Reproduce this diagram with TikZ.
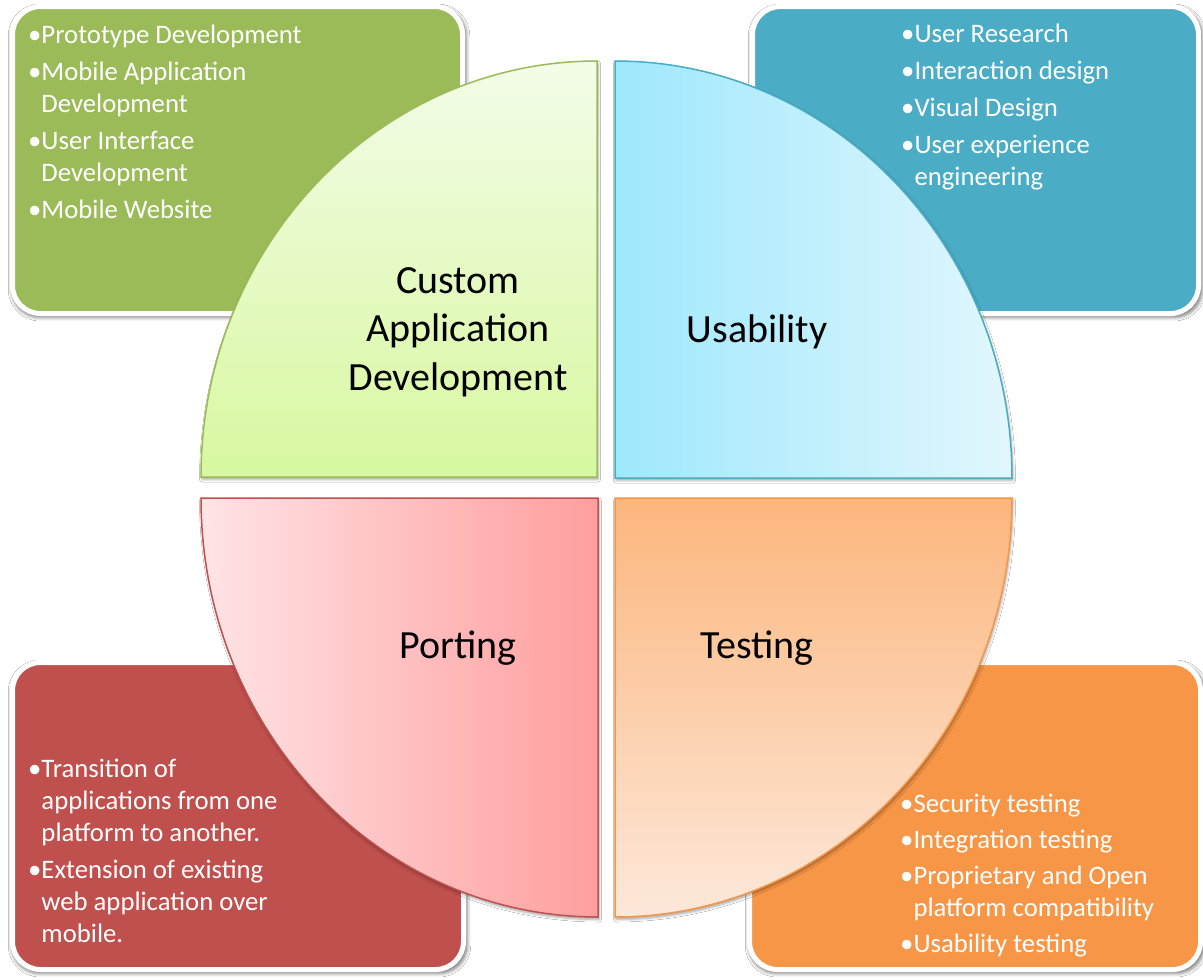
\documentclass[tikz,border=0pt]{standalone}
\usepackage{fontspec}
\setmainfont{Carlito}
\usetikzlibrary{shadows,shadows.blur}
\definecolor{gbox}{HTML}{9BBB59}
\definecolor{bbox}{HTML}{4BACC6}
\definecolor{rbox}{HTML}{C0504D}
\definecolor{obox}{HTML}{F79646}
\definecolor{gtop}{HTML}{F3FCE8}
\definecolor{gbot}{HTML}{D8F8A0}
\definecolor{bleft}{HTML}{9FE8FD}
\definecolor{bright}{HTML}{E2F7FD}
\definecolor{pleft}{HTML}{FFE4E6}
\definecolor{pright}{HTML}{FF9E9E}
\definecolor{otop}{HTML}{FCB67D}
\definecolor{obot}{HTML}{FDE8DA}
\tikzset{
  infobox/.style={rectangle, rounded corners=28pt, draw=white, line width=5pt,
    minimum height=307pt, inner sep=0pt,
    blur shadow={shadow xshift=1.5pt, shadow yshift=-2.5pt, shadow scale=1.012,
      shadow blur radius=3pt, shadow opacity=45}},
  listtext/.style={anchor=north west, align=left, inner sep=0pt, text=white,
    font=\fontsize{26.7}{32}\selectfont},
  quarter/.style={line width=1.5pt,
    blur shadow={shadow xshift=1pt, shadow yshift=-2.5pt,
      shadow blur radius=2.5pt, shadow opacity=35}},
  biglabel/.style={inner sep=0pt, text=black, align=center,
    font=\fontsize{40}{48.5}\selectfont}
}
\begin{document}
\begin{tikzpicture}[x=1pt,y=-1pt]
\useasboundingbox[fill=white] (0,0) rectangle (1203,980);

% outer boxes
\node[infobox, fill=gbox, minimum width=450pt] (gb) at (237.5,160) {};
\node[infobox, fill=bbox, minimum width=446pt] (bb) at (975.5,160) {};
\node[infobox, fill=rbox, minimum width=451pt] (rb) at (238,816) {};
\node[infobox, fill=obox, minimum width=451pt] (ob) at (975,816) {};

% box texts
\node[listtext] (gt) at (28,25) {•Prototype Development\\[5pt]•Mobile Application\\\phantom{•}Development\\[5pt]•User Interface\\\phantom{•}Development\\[5pt]•Mobile Website};
\node[listtext] (bt) at (901,24) {•User Research\\[5pt]•Interaction design\\[5pt]•Visual Design\\[5pt]•User experience\\\phantom{•}engineering};
\node[listtext] (rt) at (28,759) {•Transition of\\\phantom{•}applications from one\\\phantom{•}platform to another.\\[5pt]•Extension of existing\\\phantom{•}web application over\\\phantom{•}mobile.};
\node[listtext] (ot) at (900,794) {•Security testing\\[4pt]•Integration testing\\[4pt]•Proprietary and Open\\\phantom{•}platform compatibility\\[4pt]•Usability testing};

% quarter shapes
\path[quarter, draw=gbox, top color=gtop, bottom color=gbot]
  (597,477) -- (201,477) .. controls (201,247.2) and (378.3,61) .. (597,61) -- cycle;
\path[quarter, draw=bbox, left color=bleft, right color=bright]
  (615,478) -- (615,61) .. controls (834.3,61) and (1012,247.7) .. (1012,478) -- cycle;
\path[quarter, draw=rbox, left color=pleft, right color=pright]
  (598,498) -- (201,498) .. controls (201,729.4) and (378.7,917) .. (598,917) -- cycle;
\path[quarter, draw=obox, top color=otop, bottom color=obot]
  (615,498) -- (1012,498) .. controls (1012,729.4) and (834.3,917) .. (615,917) -- cycle;

% labels
\node[biglabel, anchor=north] (cad) at (458,267) {Custom\\Application\\Development};
\node[biglabel, anchor=base] (us) at (757,342) {Usability};
\node[biglabel, anchor=base] (po) at (458,658) {Porting};
\node[biglabel, anchor=base] (te) at (757,658) {Testing};
\end{tikzpicture}
\end{document}
